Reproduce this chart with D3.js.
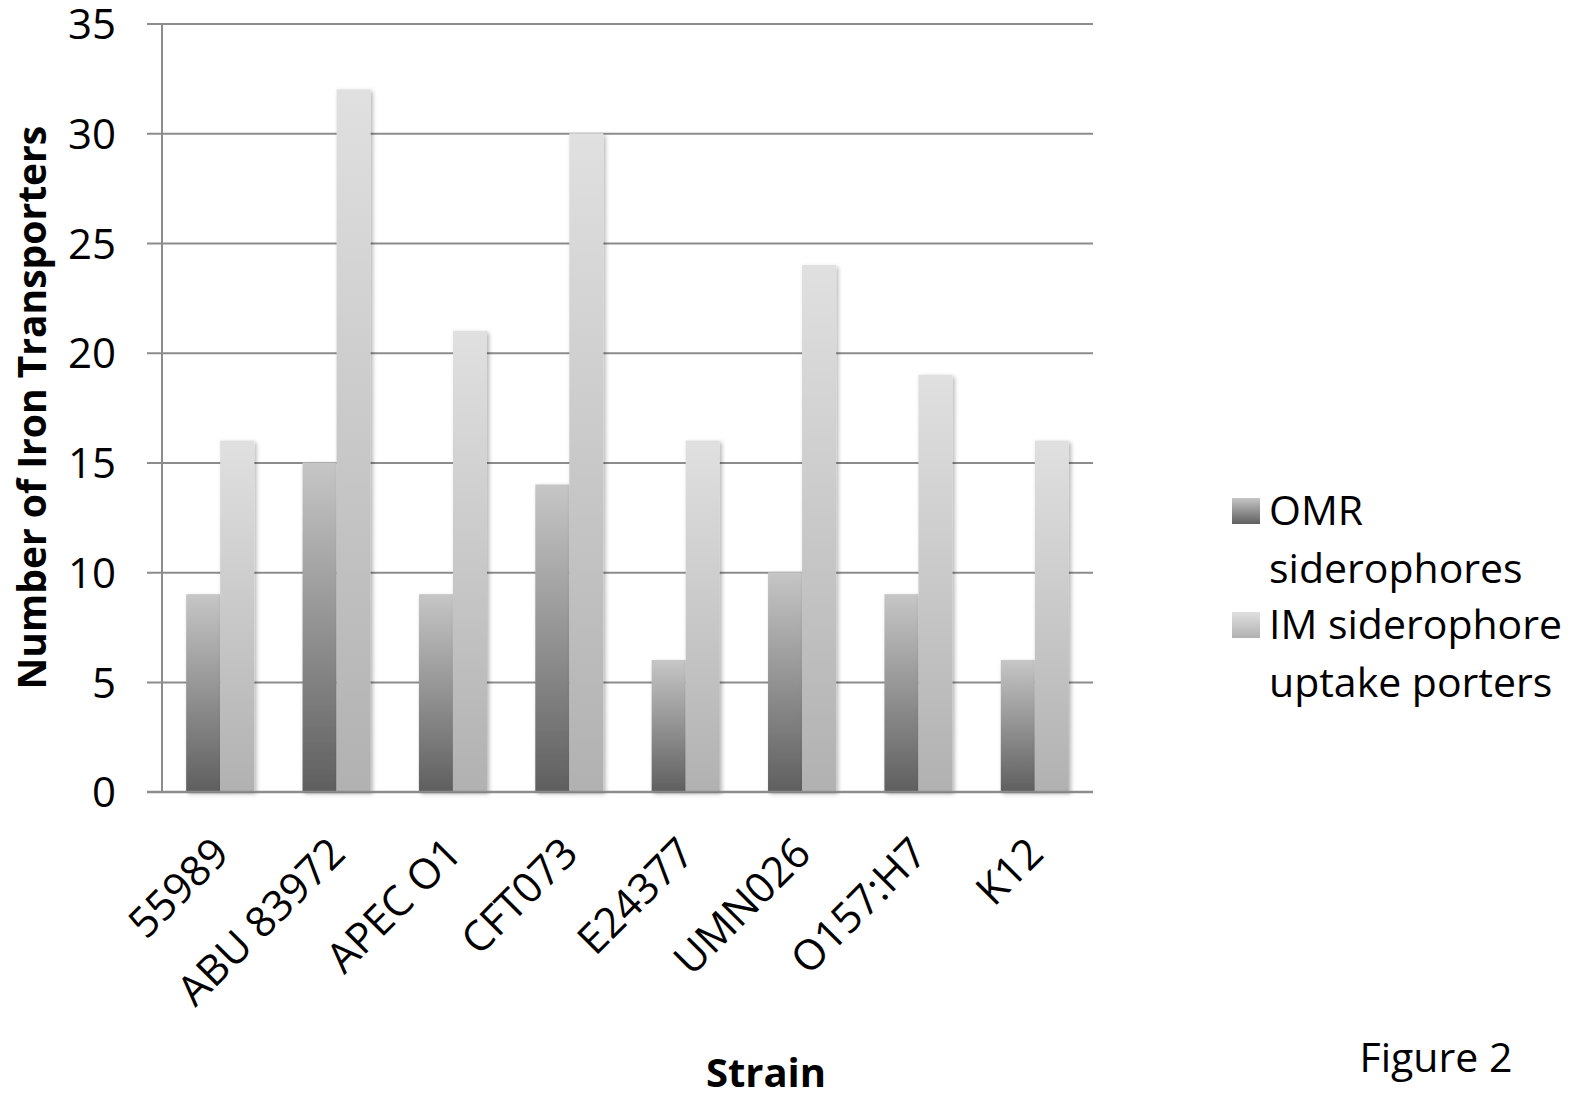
<!DOCTYPE html>
<html>
<head>
<meta charset="utf-8">
<script src="https://cdn.jsdelivr.net/npm/d3@7/dist/d3.min.js"></script>
<style>
  body { margin: 0; background: #fff; }
  text { font-family: "Open Sans", "Noto Sans", sans-serif; fill: #000; }
</style>
</head>
<body>
<script>
// chart data
const strains = ["55989", "ABU 83972", "APEC O1", "CFT073", "E24377", "UMN026", "O157:H7", "K12"];
const seriesNames = ["OMR siderophores", "IM siderophore uptake porters"];
const omrValues = [9, 15, 9, 14, 6, 10, 9, 6];
const imValues = [16, 32, 21, 30, 16, 24, 19, 16];
const yTicks = [0, 5, 10, 15, 20, 25, 30, 35];
const legendLines = [["OMR", "siderophores"], ["IM siderophore", "uptake porters"]];

const W = 1586, H = 1097;
const plot = { left: 162, right: 1093, top: 23.5, bottom: 791.7 };

const svg = d3.select("body").append("svg")
  .attr("width", W)
  .attr("height", H);

// gradients for the two series
const defs = svg.append("defs");
const grads = [
  { id: "gOmr", top: "#c6c6c6", bottom: "#5f5f5f" },
  { id: "gIm", top: "#e0e0e0", bottom: "#b1b1b1" }
];
grads.forEach(g => {
  const lg = defs.append("linearGradient").attr("id", g.id)
    .attr("x1", 0).attr("y1", 0).attr("x2", 0).attr("y2", 1);
  lg.append("stop").attr("offset", "0%").attr("stop-color", g.top);
  lg.append("stop").attr("offset", "100%").attr("stop-color", g.bottom);
});
defs.append("filter").attr("id", "shadow")
  .attr("x", "-20%").attr("y", "-5%").attr("width", "150%").attr("height", "115%")
  .append("feDropShadow")
  .attr("dx", 2).attr("dy", 2).attr("stdDeviation", 2)
  .attr("flood-color", "#000").attr("flood-opacity", 0.3);

// scales
const x0 = d3.scaleBand().domain(strains).range([plot.left, plot.right]).padding(0);
const x1 = d3.scaleBand().domain(seriesNames).range([0, x0.bandwidth()])
  .paddingInner(0).paddingOuter(0.71);
const y = d3.scaleLinear().domain([0, 35]).range([plot.bottom, plot.top]);

// gridlines + y axis
const yAxis = d3.axisLeft(y).tickValues(yTicks).tickSize(-(plot.right - plot.left)).tickPadding(46);
const gy = svg.append("g")
  .attr("transform", `translate(${plot.left},0)`)
  .call(yAxis);
gy.select(".domain").remove();
gy.selectAll(".tick line")
  .attr("x1", -15)
  .attr("stroke", "#8c8c8c").attr("stroke-width", 2);
gy.selectAll(".tick text")
  .attr("font-size", 42)
  .attr("dy", "0.36em")
  .style("font-family", "'Open Sans', sans-serif");

// y axis vertical line
svg.append("line")
  .attr("x1", plot.left).attr("x2", plot.left)
  .attr("y1", plot.top).attr("y2", plot.bottom)
  .attr("stroke", "#8c8c8c").attr("stroke-width", 2);

// bars
const rows = strains.map((s, i) => ({ strain: s, vals: [omrValues[i], imValues[i]] }));
const groups = svg.append("g").selectAll("g")
  .data(rows)
  .join("g")
  .attr("transform", d => `translate(${x0(d.strain)},0)`);

groups.selectAll("rect")
  .data(d => d.vals.map((v, k) => ({ key: seriesNames[k], v: v, k: k })))
  .join("rect")
  .attr("x", d => x1(d.key))
  .attr("width", x1.bandwidth())
  .attr("y", d => y(d.v))
  .attr("height", d => y(0) - y(d.v))
  .attr("fill", d => `url(#${grads[d.k].id})`)
  .attr("filter", "url(#shadow)");

// baseline redrawn over bars
svg.append("line")
  .attr("x1", plot.left - 15).attr("x2", plot.right)
  .attr("y1", y(0)).attr("y2", y(0))
  .attr("stroke", "#8c8c8c").attr("stroke-width", 2);

// x labels, rotated
const xAxis = d3.axisBottom(x0).tickSize(0).tickPadding(0);
const gx = svg.append("g")
  .attr("transform", `translate(0,${plot.bottom})`)
  .call(xAxis);
gx.select(".domain").remove();
gx.selectAll(".tick text")
  .attr("font-size", 42)
  .attr("text-anchor", "end")
  .attr("dy", 0)
  .attr("transform", "translate(11,64) rotate(-45)")
  .style("font-family", "'Open Sans', sans-serif");

// axis titles
svg.append("text")
  .attr("transform", `translate(46,${(plot.top + plot.bottom) / 2}) rotate(-90)`)
  .attr("text-anchor", "middle")
  .attr("font-size", 39)
  .attr("font-weight", "bold")
  .text("Number of Iron Transporters");

svg.append("text")
  .attr("x", 766).attr("y", 1087)
  .attr("text-anchor", "middle")
  .attr("font-size", 40)
  .attr("font-weight", "bold")
  .text("Strain");

svg.append("text")
  .attr("x", 1436).attr("y", 1072)
  .attr("text-anchor", "middle")
  .attr("font-size", 41)
  .text("Figure 2");

// legend
const leg = svg.append("g");
const legTop = [498, 612];
legendLines.forEach((lines, k) => {
  leg.append("rect")
    .attr("x", 1232).attr("y", legTop[k])
    .attr("width", 28).attr("height", 26)
    .attr("fill", `url(#${grads[k].id})`);
  lines.forEach((t, j) => {
    leg.append("text")
      .attr("x", 1269).attr("y", legTop[k] + 27 + j * 58)
      .attr("font-size", 41)
      .text(t);
  });
});
</script>
</body>
</html>
